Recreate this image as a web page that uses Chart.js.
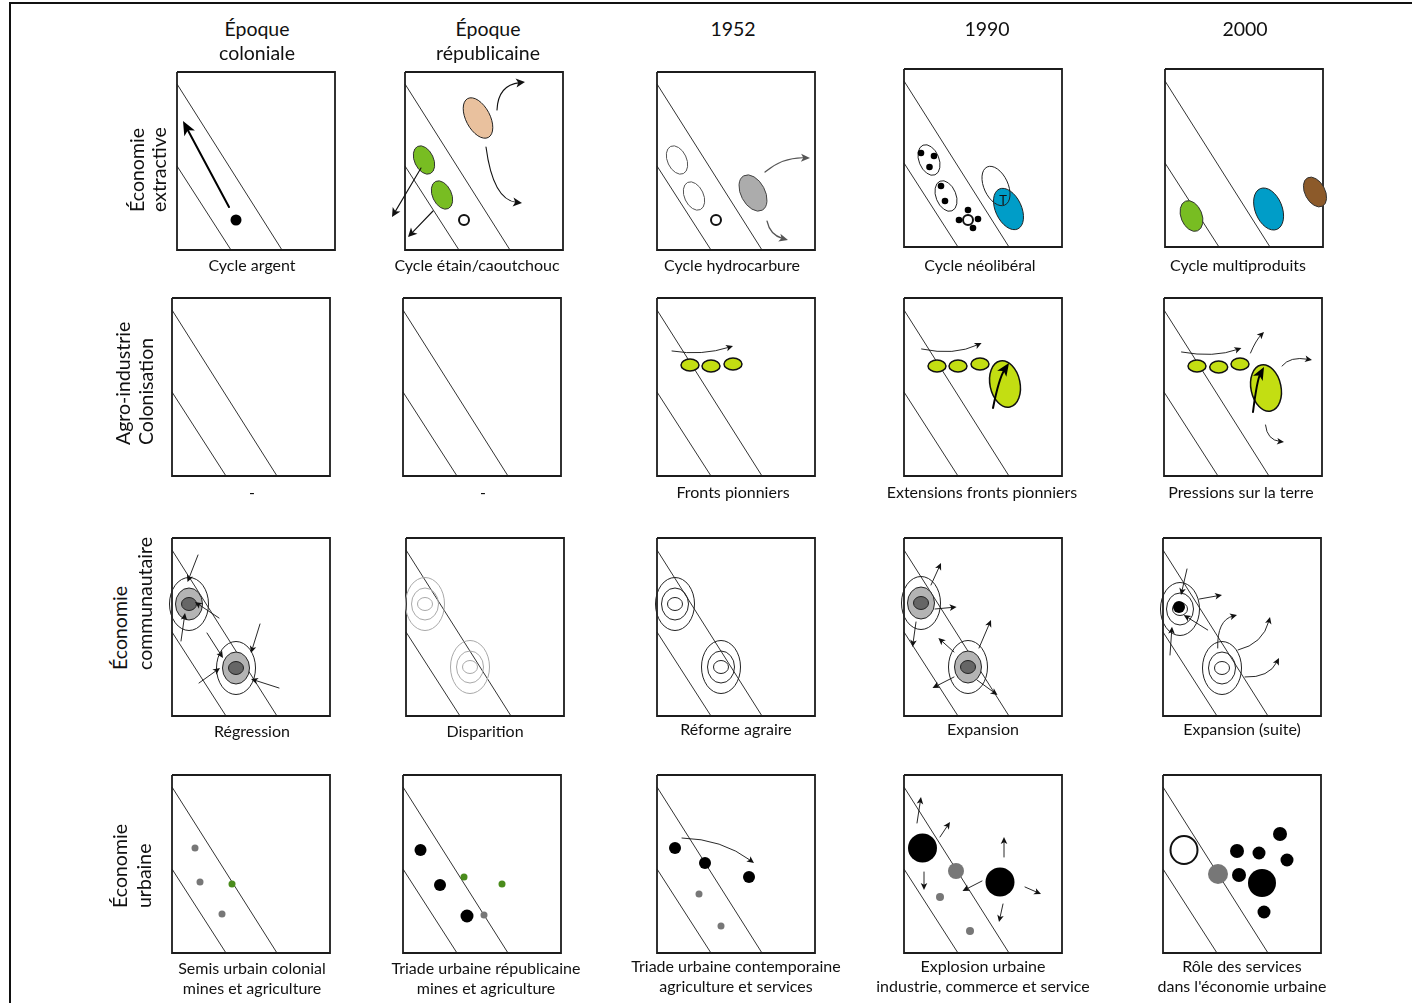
<!DOCTYPE html>
<html><head><meta charset="utf-8">
<script src="https://cdn.jsdelivr.net/npm/chart.js@4.4.1/dist/chart.umd.min.js"></script>
<style>
html,body{margin:0;padding:0;background:#fff;}
body{width:1412px;height:1003px;position:relative;overflow:hidden;font-family:Lato,"Open Sans",sans-serif;color:#111;}
.t{position:absolute;white-space:nowrap;line-height:1;}
canvas{position:absolute;}
#frameTop{position:absolute;left:9px;top:2px;width:1403px;height:2px;background:#111}
#frameLeft{position:absolute;left:9px;top:2px;width:2px;height:1001px;background:#111}
</style></head><body>
<div id="frameTop"></div><div id="frameLeft"></div>
<script>
// ---------------- DATA ----------------
const columnTitles = [['Époque','coloniale'],['Époque','républicaine'],['1952'],['1990'],['2000']];
const rowTitles = [['Économie','extractive'],['Agro-industrie','Colonisation'],['Économie','communautaire'],['Économie','urbaine']];
const captions = [
  [['Cycle argent'],['Cycle étain/caoutchouc'],['Cycle hydrocarbure'],['Cycle néolibéral'],['Cycle multiproduits']],
  [['-'],['-'],['Fronts pionniers'],['Extensions fronts pionniers'],['Pressions sur la terre']],
  [['Régression'],['Disparition'],['Réforme agraire'],['Expansion'],['Expansion (suite)']],
  [['Semis urbain colonial','mines et agriculture'],['Triade urbaine républicaine','mines et agriculture'],
   ['Triade urbaine contemporaine','agriculture et services'],['Explosion urbaine','industrie, commerce et service'],
   ['Rôle des services',"dans l'économie urbaine"]]
];
// panel frame and the two diagonal corridor lines (panel units)
const frameOutline = [[0,0],[158,0],[158,178],[0,178],[0,0]];
const diagonalUpper = [[0,12],[105,178]];
const diagonalLower = [[0,94],[54,178]];
// ellipses: panel, cx, cy, rx, ry, rotation(deg), style
const ellipses = [
  ['r1c2',73,46,12,22,-28,'tan'],
  ['r1c2',19,88,9.5,15,-25,'green'],
  ['r1c2',37,123,9.5,15,-25,'green'],
  ['r1c2',59,148,5,5,0,'smallOpen'],
  ['r1c3',20,88,9.5,15,-25,'openGray'],
  ['r1c3',37,124,9.5,15,-25,'openGray'],
  ['r1c3',59,148,5,5,0,'smallOpen'],
  ['r1c3',96,121,12,19.5,-28,'grayFill'],
  ['r1c4',25,91,10,16,-22,'open'],
  ['r1c4',42,127,10,16,-22,'open'],
  ['r1c4',104.5,140,13,22,-25,'blue'],
  ['r1c4',92,117,12,21,-25,'open'],
  ['r1c4',64,151,5,5,0,'smallOpen'],
  ['r1c5',26.5,147,10.5,16,-22,'green'],
  ['r1c5',103.6,140,13.5,22,-22,'blue'],
  ['r1c5',150,123,10,16,-28,'brown'],
  ['r2c3',33,67,9,6,0,'lime'],['r2c3',54,68,9,6,0,'lime'],['r2c3',76,66,9,6,0,'lime'],
  ['r2c4',33,68,9,6,0,'lime'],['r2c4',54,68,9,6,0,'lime'],['r2c4',76,66,9,6,0,'lime'],
  ['r2c4',101,86,15,23.5,-12,'lime'],
  ['r2c5',33,68,9,6,0,'lime'],['r2c5',54.7,69,9,6,0,'lime'],['r2c5',76,66,9,6,0,'lime'],
  ['r2c5',102,90,15,23.5,-12,'lime'],
  ['r4c5',21,75,13.5,14,0,'openThick']
];
// concentric ring groups (row 3): panel, cx, cy, variant
const ringGroups = [
  ['r3c1',17,66,'shaded'],['r3c1',64,130,'shaded'],
  ['r3c2',19,66,'faded'],['r3c2',64,129,'faded'],
  ['r3c3',18,66,'lined'],['r3c3',64,129,'lined'],
  ['r3c4',17,65,'shaded'],['r3c4',64,129,'shaded'],
  ['r3c5',17,71,'core'],['r3c5',59,130,'lined']
];
const ringRadii = [[19.5,26.5],[13.5,16],[7.5,6.5]];
// dots: panel, x, y, radius, style
const dots = [
  ['r1c1',59,148,5.5,'black'],
  ['r1c4',17,84,3.3,'black'],['r1c4',30,87,3.3,'black'],['r1c4',25.5,98,3.3,'black'],
  ['r1c4',37,117,3.3,'black'],['r1c4',41,132,3.3,'black'],
  ['r1c4',64,141,3.3,'black'],['r1c4',55,151,3.3,'black'],['r1c4',74,150,3.3,'black'],['r1c4',69,159,3.3,'black'],
  ['r3c5',16,69,6,'black'],
  ['r4c1',23,73,3.5,'gray'],['r4c1',28,107,3.5,'gray'],['r4c1',50,139,3.5,'gray'],['r4c1',60,109,3.5,'green'],
  ['r4c2',17.5,75,6,'black'],['r4c2',37,110,6,'black'],['r4c2',64,141,6.5,'black'],
  ['r4c2',61,102,3.5,'green'],['r4c2',99,109,3.5,'green'],['r4c2',81,140,3.5,'gray'],
  ['r4c3',18,73,6,'black'],['r4c3',48,88,6,'black'],['r4c3',92,102,6,'black'],
  ['r4c3',42,119,3.5,'gray'],['r4c3',64,151,3.5,'gray'],
  ['r4c4',18.5,73,14.5,'black'],['r4c4',96,107,14.5,'black'],
  ['r4c4',52,96,8,'gray'],['r4c4',36,122,4,'gray'],['r4c4',66,156,4,'gray'],
  ['r4c5',74,76,7,'black'],['r4c5',96,78,6.5,'black'],['r4c5',117,59,7,'black'],['r4c5',124,85,6.5,'black'],
  ['r4c5',76,100,7,'black'],['r4c5',99,108,14,'black'],['r4c5',101,137,6.5,'black'],
  ['r4c5',55,99,10,'gray']
];
// arrows: panel, x1, y1, ctrlX, ctrlY (null = straight), x2, y2, style
const arrows = [
  ['r1c1',52,135,null,null,6,49,'big'],
  ['r1c2',92,38,93,13,120,10,'normal'],
  ['r1c2',81,75,88,128,117,131,'normal'],
  ['r1c2',16,96,null,null,-13,145,'normal'],
  ['r1c2',28,139,null,null,3,165,'normal'],
  ['r1c3',108,100,126,85,153,86,'soft'],
  ['r1c3',110,149,113,163,131,168,'soft'],
  ['r2c3',15,53,45,58,76,48,'small'],
  ['r2c4',17.6,51,50,58,77.6,45,'small'],
  ['r2c4',89,110,95,80,105,65,'bold'],
  ['r2c5',17.5,54,50,60,77.4,50,'small'],
  ['r2c5',89,114,93,82,100,69,'bold'],
  ['r2c5',86.5,55,92,42,100,34,'small'],
  ['r2c5',118,68,126,58,148,62,'small'],
  ['r2c5',101.5,127,103,142,120,144,'small'],
  ['r3c1',26,17,null,null,15.5,44,'small'],['r3c1',47,80,null,null,23,64,'small'],['r3c1',9,103,null,null,13,75,'small'],
  ['r3c1',88,86,null,null,79,115,'small'],['r3c1',35,95,null,null,51,120,'small'],['r3c1',27,145,null,null,48,130,'small'],
  ['r3c1',107,150,null,null,79,141,'small'],
  ['r3c4',27,47,null,null,37,25,'small'],['r3c4',31,71,null,null,52.6,69,'small'],['r3c4',12,84,null,null,8.5,109,'small'],
  ['r3c4',75,110,null,null,87,82,'small'],['r3c4',50,114,null,null,34.4,100,'small'],['r3c4',50,139,null,null,28.5,150,'small'],
  ['r3c4',73,142,null,null,93.5,157,'small'],
  ['r3c5',24,31,null,null,18,57,'small'],['r3c5',36.5,61,null,null,59,57,'small'],['r3c5',44.7,92,null,null,20.7,77,'small'],
  ['r3c5',7,117,null,null,9,88.7,'small'],
  ['r3c5',54.7,110,54,82,74,77,'small'],['r3c5',75,112,100,106,107,79,'small'],['r3c5',82,139,106,140,116,120,'small'],
  ['r4c3',25,63,65,64,97,88,'small'],
  ['r4c4',13,48,null,null,17,22,'small'],['r4c4',36,62,null,null,46,47,'small'],['r4c4',20,97,null,null,20,115,'small'],
  ['r4c4',100,82,null,null,100,62,'small'],['r4c4',78,106,null,null,58.5,116,'small'],['r4c4',121,112,null,null,137,119,'small'],
  ['r4c4',99,129,null,null,95,147,'small']
];
// small glyph inside the 1990 extractive panel
const glyphs = [['r1c4',99,131,'T']];

// ---------------- LAYOUT / STYLE ----------------
const PW = 158, PH = 178, M = 30;
const panelLeft = [[177,405,657,904,1165],[172,403,657,904,1164],[172,406,657,904,1163],[172,403,657,904,1163]];
const panelTop = [[72,72,72,69,69],[298,298,298,298,298],[538,538,538,538,538],[775,775,775,775,775]];
const colTitleX = [257,488,733,987,1245], colTitleY = [29,53];
const rowTitlePos = [[137,159,212],[123,146,445],[120,145,670],[120,144,908]];
const capX = [[252,477,732,980,1238],[252,483,733,982,1241],[252,485,736,983,1242],[252,486,736,983,1242]];
const capY = [[265,265,265,265,265],[492,492,492,492,492],[731,731,729,729,729],[968,968,966,966,966]];
const TITLE_SIZE = 19.5, CAPTION_SIZE = 16;

const ellipseStyle = {
  tan:{fill:'#e9c19e',stroke:'#222',w:1},
  green:{fill:'#78bd22',stroke:'#333',w:1},
  open:{fill:null,stroke:'#222',w:1},
  openGray:{fill:null,stroke:'#555',w:1},
  openThick:{fill:'#fff',stroke:'#111',w:2},
  smallOpen:{fill:'#fff',stroke:'#111',w:2},
  grayFill:{fill:'#acacac',stroke:'#444',w:1},
  blue:{fill:'#009dc8',stroke:'#222',w:1},
  brown:{fill:'#8c5a2a',stroke:'#333',w:1},
  lime:{fill:'#c3de12',stroke:'#111',w:1.5},
  ringLine:{fill:null,stroke:'#222',w:1},
  ringGray:{fill:'#b4b4b4',stroke:'#222',w:1},
  ringDark:{fill:'#666',stroke:'#222',w:1},
  ringLight:{fill:null,stroke:'#a8a8a8',w:1},
  ringWhite:{fill:'#fff',stroke:'#222',w:1}
};
const ringVariant = {
  shaded:['ringLine','ringGray','ringDark'],
  faded:['ringLight','ringLight','ringLight'],
  lined:['ringLine','ringLine','ringLine'],
  core:['ringLine','ringLine','ringWhite']
};
const dotColor = {black:'#000', gray:'#777', green:'#4a8c1c'};
const arrowStyle = {
  normal:{color:'#111',w:1.1,len:9,hw:4.5},
  small:{color:'#111',w:0.9,len:7,hw:3.3},
  big:{color:'#000',w:2,len:14,hw:6},
  bold:{color:'#000',w:2,len:13,hw:5.5},
  soft:{color:'#555',w:1.2,len:9,hw:4}
};

// ---------------- HELPERS ----------------
function addText(str, x, y, size, extra){
  const d = document.createElement('div');
  d.className = 't';
  d.textContent = str;
  d.style.fontSize = size+'px';
  d.style.left = x+'px'; d.style.top = y+'px';
  d.style.transform = extra || 'translate(-50%,-50%)';
  document.body.appendChild(d);
  return d;
}

const shapePlugin = {
  id:'shapes',
  afterDatasetDraw(chart, args){
    if (chart.data.datasets[args.index].label !== 'frame') return;
    const pid = chart.options.plugins.shapes.pid;
    const {ctx, scales:{x, y}} = chart;
    const drawE = (cx, cy, rx, ry, rot, st) => {
      const px = x.getPixelForValue(cx), py = y.getPixelForValue(cy);
      const prx = Math.abs(x.getPixelForValue(cx+rx)-px), pry = Math.abs(y.getPixelForValue(cy+ry)-py);
      ctx.save();
      ctx.beginPath();
      ctx.ellipse(px, py, prx, pry, rot*Math.PI/180, 0, Math.PI*2);
      if (st.fill){ ctx.fillStyle = st.fill; ctx.fill(); }
      ctx.lineWidth = st.w; ctx.strokeStyle = st.stroke; ctx.stroke();
      ctx.restore();
    };
    ringGroups.filter(g=>g[0]===pid).forEach(g=>{
      ringVariant[g[3]].forEach((s,i)=>drawE(g[1], g[2], ringRadii[i][0], ringRadii[i][1], 0, ellipseStyle[s]));
    });
    ellipses.filter(e=>e[0]===pid).forEach(e=>drawE(e[1],e[2],e[3],e[4],e[5],ellipseStyle[e[6]]));
  },
  afterDatasetsDraw(chart){
    const pid = chart.options.plugins.shapes.pid;
    const {ctx, scales:{x, y}} = chart;
    arrows.filter(a=>a[0]===pid).forEach(a=>{
      const st = arrowStyle[a[7]];
      const p0 = {x:x.getPixelForValue(a[1]), y:y.getPixelForValue(a[2])};
      const p1 = {x:x.getPixelForValue(a[5]), y:y.getPixelForValue(a[6])};
      const c = a[3]===null ? null : {x:x.getPixelForValue(a[3]), y:y.getPixelForValue(a[4])};
      const from = c || p0;
      const ang = Math.atan2(p1.y-from.y, p1.x-from.x);
      const ex = p1.x - Math.cos(ang)*st.len*0.6, ey = p1.y - Math.sin(ang)*st.len*0.6;
      ctx.save();
      ctx.strokeStyle = st.color; ctx.fillStyle = st.color; ctx.lineWidth = st.w; ctx.lineCap='round';
      ctx.beginPath(); ctx.moveTo(p0.x,p0.y);
      if (c) ctx.quadraticCurveTo(c.x,c.y,ex,ey); else ctx.lineTo(ex,ey);
      ctx.stroke();
      const bx = p1.x - Math.cos(ang)*st.len, by = p1.y - Math.sin(ang)*st.len;
      ctx.beginPath();
      ctx.moveTo(p1.x,p1.y);
      ctx.lineTo(bx - Math.sin(ang)*st.hw, by + Math.cos(ang)*st.hw);
      ctx.lineTo(p1.x - Math.cos(ang)*st.len*0.75, p1.y - Math.sin(ang)*st.len*0.75);
      ctx.lineTo(bx + Math.sin(ang)*st.hw, by - Math.cos(ang)*st.hw);
      ctx.closePath(); ctx.fill();
      ctx.restore();
    });
  }
};

function buildPanel(r, c){
  const pid = 'r'+(r+1)+'c'+(c+1);
  const cv = document.createElement('canvas');
  cv.width = PW+2*M; cv.height = PH+2*M;
  cv.style.left = (panelLeft[r][c]-M)+'px';
  cv.style.top = (panelTop[r][c]-M)+'px';
  cv.style.width = cv.width+'px'; cv.style.height = cv.height+'px';
  document.body.appendChild(cv);
  const toPts = arr => arr.map(p=>({x:p[0], y:p[1]}));
  const lineDs = (label, pts, w) => ({label, data:toPts(pts), showLine:true, borderColor:'#1c1c1c', borderWidth:w,
      pointRadius:0, fill:false, order:10, borderJoinStyle:'miter', clip:false});
  const datasets = [lineDs('frame', frameOutline, 1.8), lineDs('upper', diagonalUpper, 0.9), lineDs('lower', diagonalLower, 0.9)];
  Object.keys(dotColor).forEach(k=>{
    const pts = dots.filter(d=>d[0]===pid && d[4]===k).map(d=>({x:d[1], y:d[2], r:d[3]}));
    if (pts.length) datasets.push({label:'dots-'+k, data:pts, showLine:false, order:0,
      backgroundColor:dotColor[k], borderWidth:0, pointRadius:ctx=>ctx.raw ? ctx.raw.r : 3, pointHoverRadius:ctx=>ctx.raw ? ctx.raw.r : 3, clip:false});
  });
  new Chart(cv, {
    type:'scatter',
    data:{datasets},
    options:{
      responsive:false, animation:false, devicePixelRatio:1, events:[],
      layout:{padding:0, autoPadding:false},
      scales:{
        x:{type:'linear', min:-M, max:PW+M, display:false},
        y:{type:'linear', min:-M, max:PH+M, reverse:true, display:false}
      },
      plugins:{legend:{display:false}, tooltip:{enabled:false}, shapes:{pid}}
    },
    plugins:[shapePlugin]
  });
}

for (let r=0;r<4;r++) for (let c=0;c<5;c++) buildPanel(r,c);

// texts
columnTitles.forEach((lines,c)=>{
  lines.forEach((s,i)=>addText(s, colTitleX[c], colTitleY[i], TITLE_SIZE));
});
rowTitles.forEach((lines,r)=>{
  const [x1,x2,yb] = rowTitlePos[r];
  [x1,x2].forEach((xx,i)=>{
    const d = addText(lines[i], xx, yb, TITLE_SIZE, 'rotate(-90deg) translate(0,-50%)');
    d.style.transformOrigin = '0 0';
  });
});
captions.forEach((row,r)=>row.forEach((lines,c)=>{
  lines.forEach((s,i)=>addText(s, capX[r][c], capY[r][c]+i*20, CAPTION_SIZE));
}));
glyphs.forEach(g=>{
  const [pid,gx,gy,ch] = g; const r = +pid[1]-1, c = +pid[3]-1;
  addText(ch, panelLeft[r][c]+gx, panelTop[r][c]+gy, 13);
});
</script>
</body></html>
